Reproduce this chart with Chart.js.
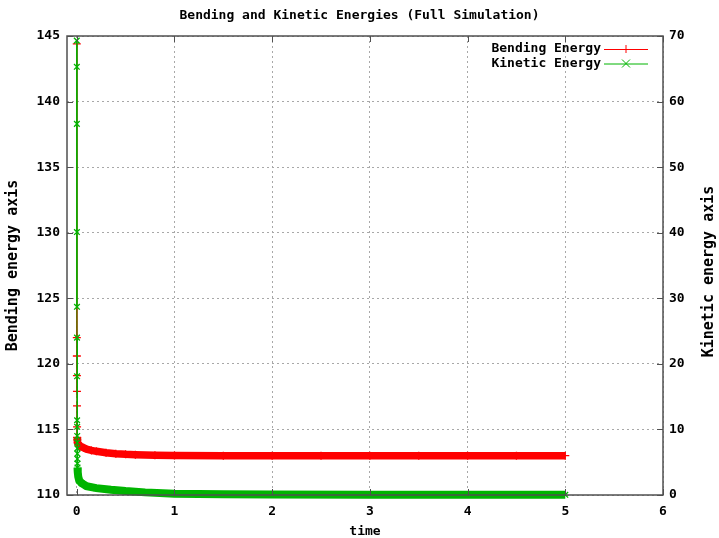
<!DOCTYPE html>
<html>
<head>
<meta charset="utf-8">
<title>Bending and Kinetic Energies</title>
<script src="https://cdn.jsdelivr.net/npm/chart.js@4/dist/chart.umd.min.js"></script>
<style>
  body { margin: 0; background: #fff; }
  canvas { display: block; }
</style>
</head>
<body>
<canvas id="energyChart" width="719" height="538"></canvas>
<script>
// Simulation output: time and energies
const bendTime = [0, 0.0005, 0.001, 0.0015, 0.002, 0.0025, 0.003, 0.0035, 0.005, 0.01,
                  0.02, 0.04, 0.07, 0.1, 0.15, 0.2, 0.3, 0.4, 0.5, 0.6,
                  0.8, 1.0, 1.5, 2, 2.5, 3, 3.5, 4, 4.5, 5];
const bendEnergy = [144.4, 122.0, 120.6, 119.1, 117.9, 116.8, 115.2, 114.4, 114.2, 114.0,
                    113.85, 113.7, 113.6, 113.5, 113.4, 113.33, 113.22, 113.15, 113.1, 113.07,
                    113.04, 113.02, 113.0, 113.0, 113.0, 113.0, 113.0, 113.0, 113.0, 113.0];

const kinTime = [0, 0.0005, 0.001, 0.0015, 0.002, 0.0025, 0.003, 0.0035, 0.004, 0.0045,
                 0.005, 0.0055, 0.006, 0.0065, 0.007, 0.0075, 0.01, 0.015, 0.025, 0.05,
                 0.1, 0.2, 0.35, 0.5, 0.7, 1.0, 1.5, 2, 3, 4, 5];
const kinEnergy = [69.3, 65.3, 56.6, 40.1, 28.7, 24.0, 18.1, 11.4, 10.4, 9.0,
                   8.0, 7.1, 6.3, 5.5, 4.8, 4.2, 3.5, 2.8, 2.2, 1.8,
                   1.35, 1.05, 0.8, 0.6, 0.4, 0.2, 0.1, 0.06, 0.04, 0.03, 0.03];

// Axis setup
const timeTicks = { min: -0.1, max: 6, step: 1 };
const bendTicks = { min: 110, max: 145, step: 5 };
const kinTicks = { min: 0, max: 70, step: 10 };

// index where output becomes dense enough that markers merge into a band
const bendDenseFrom = 7;
const kinDenseFrom = 15;

const MONO = "'DejaVu Sans Mono', 'Liberation Mono', monospace";
const RED = '#ff0000';
const GREEN = '#00b400';

function toPoints(xs, ys) {
    return xs.map((x, i) => ({ x: x, y: ys[i] }));
}

// border, inward tick marks, right-hand axis title and the key
const gnuplotFrame = {
    id: 'gnuplotFrame',
    afterDatasetsDraw(chart) {
        const { ctx, chartArea: a, scales } = chart;
        ctx.save();
        ctx.strokeStyle = '#505050';
        ctx.lineWidth = 1.5;
        ctx.strokeRect(a.left, a.top, a.width, a.height);

        ctx.lineWidth = 1;
        ctx.beginPath();
        scales.x.ticks.forEach(t => {
            const px = Math.round(scales.x.getPixelForValue(t.value)) + 0.5;
            ctx.moveTo(px, a.bottom); ctx.lineTo(px, a.bottom - 6);
            ctx.moveTo(px, a.top); ctx.lineTo(px, a.top + 6);
        });
        scales.y.ticks.forEach(t => {
            const py = Math.round(scales.y.getPixelForValue(t.value)) + 0.5;
            ctx.moveTo(a.left, py); ctx.lineTo(a.left + 6, py);
        });
        scales.y2.ticks.forEach(t => {
            const py = Math.round(scales.y2.getPixelForValue(t.value)) + 0.5;
            ctx.moveTo(a.right, py); ctx.lineTo(a.right - 6, py);
        });
        ctx.stroke();

        ctx.fillStyle = '#000';
        ctx.font = 'bold 15px ' + MONO;
        ctx.textAlign = 'center';
        ctx.textBaseline = 'middle';
        ctx.translate(709, (a.top + a.bottom) / 2 + 6);
        ctx.rotate(-Math.PI / 2);
        ctx.fillText('Kinetic energy axis', 0, 0);
        ctx.restore();

        // key, top right inside the plot
        ctx.save();
        ctx.font = 'bold 13px ' + MONO;
        ctx.textAlign = 'right';
        ctx.textBaseline = 'middle';
        chart.data.datasets.forEach((ds, i) => {
            const y = a.top + 13 + i * 14.5;
            ctx.fillStyle = '#000';
            ctx.fillText(ds.label, 601, y);
            ctx.strokeStyle = ds.borderColor;
            ctx.lineWidth = 1;
            ctx.beginPath();
            ctx.moveTo(604, y + 0.5); ctx.lineTo(648, y + 0.5);
            const r = 4, cx = 626;
            if (ds.pointStyle === 'cross') {
                ctx.moveTo(cx, y - r); ctx.lineTo(cx, y + r);
            } else {
                ctx.moveTo(cx - r, y - r); ctx.lineTo(cx + r, y + r);
                ctx.moveTo(cx - r, y + r); ctx.lineTo(cx + r, y - r);
            }
            ctx.stroke();
        });
        ctx.restore();
    }
};

const ctx = document.getElementById('energyChart').getContext('2d');
new Chart(ctx, {
    type: 'line',
    data: {
        datasets: [{
            label: 'Bending Energy',
            data: toPoints(bendTime, bendEnergy),
            yAxisID: 'y',
            borderColor: RED,
            backgroundColor: RED,
            borderWidth: 1,
            borderCapStyle: 'butt',
            pointStyle: 'cross',
            pointRadius: 4,
            pointBorderWidth: 1.3,
            pointBorderColor: RED,
            tension: 0,
            clip: false,
            order: 2,
            segment: {
                borderWidth: c => c.p0DataIndex >= bendDenseFrom ? 7.5 : 1
            }
        }, {
            label: 'Kinetic Energy',
            data: toPoints(kinTime, kinEnergy),
            yAxisID: 'y2',
            borderColor: GREEN,
            backgroundColor: GREEN,
            borderWidth: 1,
            borderCapStyle: 'butt',
            pointStyle: 'crossRot',
            pointRadius: 4,
            pointBorderWidth: 1.3,
            pointBorderColor: GREEN,
            tension: 0,
            clip: false,
            order: 1,
            segment: {
                borderWidth: c => c.p0DataIndex >= kinDenseFrom ? 8 : 1
            }
        }]
    },
    options: {
        responsive: false,
        animation: false,
        devicePixelRatio: 1,
        layout: { padding: 0 },
        plugins: {
            legend: { display: false },
            tooltip: { enabled: false },
            title: {
                display: true,
                text: 'Bending and Kinetic Energies (Full Simulation)',
                color: '#000',
                font: { family: MONO, size: 13, weight: 'bold', lineHeight: 1.2 },
                padding: { top: 8, bottom: 12.4 }
            }
        },
        scales: {
            x: {
                type: 'linear',
                min: timeTicks.min,
                max: timeTicks.max,
                afterFit: s => { s.height = 43; },
                ticks: {
                    stepSize: timeTicks.step,
                    includeBounds: false,
                    color: '#000',
                    padding: 9,
                    maxRotation: 0,
                    font: { family: MONO, size: 13, weight: 'bold' }
                },
                grid: { color: '#a8a8a8', lineWidth: 1, drawTicks: false },
                border: { display: false, dash: [2, 3] },
                title: {
                    display: true,
                    text: 'time',
                    color: '#000',
                    font: { family: MONO, size: 13, weight: 'bold', lineHeight: 1 },
                    padding: { top: 0, bottom: 0 }
                }
            },
            y: {
                type: 'linear',
                position: 'left',
                min: bendTicks.min,
                max: bendTicks.max,
                afterFit: s => { s.width = 67; },
                ticks: {
                    stepSize: bendTicks.step,
                    color: '#000',
                    padding: 7,
                    font: { family: MONO, size: 13, weight: 'bold' }
                },
                grid: { color: '#a8a8a8', lineWidth: 1, drawTicks: false },
                border: { display: false, dash: [2, 3] },
                title: {
                    display: true,
                    text: 'Bending energy axis',
                    color: '#000',
                    font: { family: MONO, size: 15, weight: 'bold', lineHeight: 1 },
                    padding: { top: 6, bottom: 0 }
                }
            },
            y2: {
                type: 'linear',
                position: 'right',
                min: kinTicks.min,
                max: kinTicks.max,
                afterFit: s => { s.width = 56; },
                ticks: {
                    stepSize: kinTicks.step,
                    color: '#000',
                    padding: 6,
                    font: { family: MONO, size: 13, weight: 'bold' }
                },
                grid: { display: false, drawTicks: false },
                border: { display: false }
            }
        }
    },
    plugins: [gnuplotFrame]
});
</script>
</body>
</html>
